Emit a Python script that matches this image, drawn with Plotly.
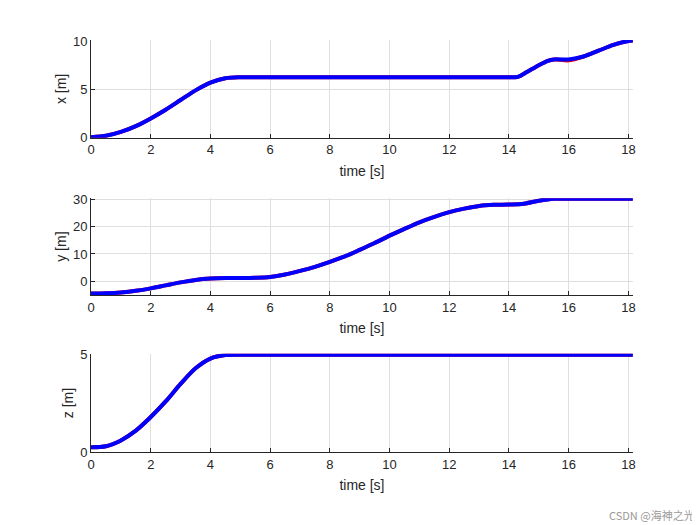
import plotly.graph_objects as go

t = [0,0.5,1,1.5,2,2.5,3,3.5,4,4.5,5,6,7,8,9,10,11,12,13,14,14.3,14.6,15,15.3,15.5,16,16.5,17,17.5,18,18.15]
x_act = [0.05,0.2,0.6,1.2,2.0,2.9,3.9,4.9,5.7,6.15,6.25,6.25,6.25,6.25,6.25,6.25,6.25,6.25,6.25,6.25,6.3,6.8,7.5,7.95,8.1,8.1,8.4,9.0,9.6,10.0,10.05]
x_ref = [0.05,0.2,0.6,1.2,2.0,2.9,3.9,4.9,5.7,6.15,6.25,6.25,6.25,6.25,6.25,6.25,6.25,6.25,6.25,6.25,6.3,6.8,7.5,7.95,8.1,8.0,8.4,9.0,9.6,10.0,10.05]

t_y = [0,0.5,1,1.5,2,2.5,3,3.5,4,4.5,5,5.5,6,6.5,7,7.5,8,8.5,9,9.5,10,10.5,11,11.5,12,12.5,13,13.5,14,14.5,15,15.5,16,17,18,18.15]
y_act = [-4.5,-4.4,-4.1,-3.5,-2.6,-1.5,-0.4,0.5,1.0,1.2,1.2,1.3,1.6,2.5,3.8,5.3,7.1,9.1,11.5,14,16.7,19.2,21.6,23.6,25.3,26.6,27.6,28.0,28.1,28.4,29.5,30.2,30.2,30.2,30.2,30.2]
y_ref = y_act

t_z = [0,0.5,1,1.5,2,2.5,3,3.5,4,4.5,5,6,8,10,12,14,16,18,18.15]
z_act = [0.25,0.3,0.6,1.1,1.8,2.6,3.5,4.3,4.8,4.98,5.0,5.0,5.0,5.0,5.0,5.0,5.0,5.0,5.0]
z_ref = z_act

xticks = list(range(0, 19, 2))
font = "Liberation Sans, Arial, sans-serif"

fig = go.Figure()
panels = [(t, x_ref, x_act, "x [m]", [0,10.1], [0,5,10]),
          (t_y, y_ref, y_act, "y [m]", [-5,30.4], [0,10,20,30]),
          (t_z, z_ref, z_act, "z [m]", [0,5.04], [0,5])]
doms = [[0.749,0.938],[0.445,0.632],[0.141,0.331]]
for i,(tt, r, a, lab, rng, yt) in enumerate(panels):
    s = "" if i == 0 else str(i+1)
    fig.add_trace(go.Scatter(x=tt, y=r, mode="lines", line=dict(color="red", width=4, shape="spline", smoothing=0.8),
                             xaxis="x"+s, yaxis="y"+s, showlegend=False))
    fig.add_trace(go.Scatter(x=tt, y=a, mode="lines", line=dict(color="blue", width=4, shape="spline", smoothing=0.8),
                             xaxis="x"+s, yaxis="y"+s, showlegend=False))
    common = dict(showline=True, linecolor="#262626", linewidth=1, gridcolor="#dfdfdf",
                  ticks="inside", ticklen=4, tickcolor="#262626", zeroline=False, automargin=False,
                  tickfont=dict(size=13, color="#262626"))
    fig.layout["xaxis"+s] = dict(domain=[0.12,0.903], range=[0,18.15], tickvals=xticks,
                                 anchor="y"+s, title=dict(text="time [s]", standoff=9,
                                 font=dict(size=14, color="#262626")), **common)
    fig.layout["yaxis"+s] = dict(domain=doms[i], range=rng, tickvals=yt, anchor="x"+s,
                                 title=dict(text=lab, standoff=3, font=dict(size=14, color="#262626")), **common)

fig.add_annotation(text="CSDN @海神之光", xref="paper", yref="paper", x=0.995, y=0.0,
                   xanchor="right", yanchor="bottom", showarrow=False,
                   font=dict(size=11, color="#999999", family="Noto Sans CJK SC"))
fig.update_layout(width=692, height=517, margin=dict(l=0,r=0,t=0,b=0),
                  plot_bgcolor="white", paper_bgcolor="white", font=dict(family=font))
fig.write_html("out.html")
